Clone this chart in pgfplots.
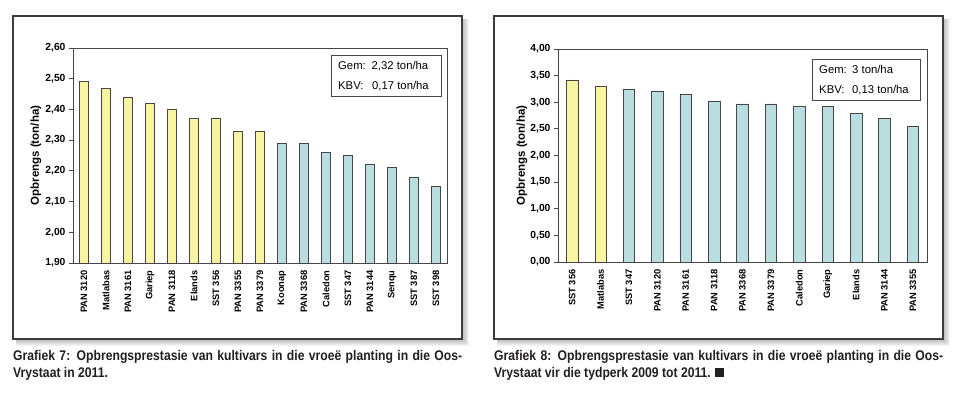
\documentclass[border=0pt]{standalone}
\usepackage{fontspec}
\setmainfont{Liberation Sans}
\newfontfamily\capfont[FakeStretch=0.87]{Liberation Sans}
\usepackage{pgfplots}
\pgfplotsset{compat=1.18}
\definecolor{baryel}{RGB}{248,245,162}
\definecolor{barblu}{RGB}{186,222,224}
\definecolor{edge}{RGB}{70,70,70}
\definecolor{frm}{RGB}{60,60,60}
\definecolor{capcol}{RGB}{35,31,32}
\pgfplotsset{
  mybar/.style={
    scale only axis,
    axis line style={edge, line width=0.8pt},
    ybar, bar shift=0pt,
    xtick style={draw=none},
    ytick pos=left, tick align=outside, major tick length=4pt,
    ytick style={edge, line width=0.8pt},
    x tick label style={rotate=90, anchor=east, font=\bfseries\fontsize{9.3}{9.3}\selectfont},
    y tick label style={font=\bfseries\fontsize{10.3}{10.3}\selectfont,
      /pgf/number format/fixed, /pgf/number format/fixed zerofill,
      /pgf/number format/precision=2, /pgf/number format/use comma,
      /pgf/number format/assume math mode=true},
    ylabel={Opbrengs (ton/ha)},
    ylabel style={font=\bfseries\fontsize{11.5}{11.5}\selectfont, anchor=center},
    every axis plot/.append style={draw=edge, line width=0.6pt},
  }
}
\begin{document}
\begin{tikzpicture}[x=1pt,y=1pt]
\path[use as bounding box] (0,0) rectangle (960,396);
% shadows and frames
\foreach \xa/\xb in {13/462, 494/943}{
  \foreach \d in {1,...,7}{
    \fill[black, opacity=0.045] (\xa+3, 396-339-\d) rectangle (\xb+\d, 396-16-3);
  }
  \fill[white] (\xa,396-339) rectangle (\xb,396-16);
  \draw[frm, line width=1.1pt] (\xa,396-339) rectangle (\xb,396-16);
}
% left chart
\begin{axis}[mybar, at={(73pt,133pt)}, anchor=south west,
  width=374pt, height=215pt, bar width=9pt,
  xmin=-0.5, xmax=16.5, ymin=1.9, ymax=2.6, ytick distance=0.1,
  xtick={0,...,16},
  ylabel style={at={(axis description cs:-0.099,0.5)}},
  xticklabels={PAN 3120,Matlabas,PAN 3161,Gariep,PAN 3118,Elands,SST 356,PAN 3355,PAN 3379,Koonap,PAN 3368,Caledon,SST 347,PAN 3144,Senqu,SST 387,SST 398}]
\addplot[fill=baryel] coordinates {(0,2.49)(1,2.47)(2,2.44)(3,2.42)(4,2.40)(5,2.37)(6,2.37)(7,2.33)(8,2.33)};
\addplot[fill=barblu] coordinates {(9,2.29)(10,2.29)(11,2.26)(12,2.25)(13,2.22)(14,2.21)(15,2.18)(16,2.15)};
\end{axis}
% right chart
\begin{axis}[mybar, at={(558pt,134pt)}, anchor=south west,
  width=369pt, height=213pt, bar width=11.5pt,
  xmin=-0.5, xmax=12.5, ymin=0, ymax=4, ytick distance=0.5,
  xtick={0,...,12},
  ylabel style={at={(axis description cs:-0.098,0.5)}},
  xticklabels={SST 356,Matlabas,SST 347,PAN 3120,PAN 3161,PAN 3118,PAN 3368,PAN 3379,Caledon,Gariep,Elands,PAN 3144,PAN 3355}]
\addplot[fill=baryel] coordinates {(0,3.42)(1,3.30)};
\addplot[fill=barblu] coordinates {(2,3.24)(3,3.20)(4,3.14)(5,3.02)(6,2.97)(7,2.97)(8,2.92)(9,2.92)(10,2.79)(11,2.70)(12,2.55)};
\end{axis}
% stat boxes
\begin{scope}[every node/.style={anchor=base west, inner sep=0, font=\fontsize{11.3}{11.3}\selectfont}]
\draw[edge, fill=white, line width=0.6pt] (331,396-96) rectangle (441,396-55);
\node at (338,396-69.5) {Gem:};
\node at (371.5,396-69.5) {2,32 ton/ha};
\node at (338,396-90) {KBV:};
\node at (372,396-90) {0,17 ton/ha};
\draw[edge, fill=white, line width=0.6pt] (812,396-100) rectangle (920,396-59);
\node at (819,396-74) {Gem:};
\node at (852,396-74) {3 ton/ha};
\node at (819,396-94) {KBV:};
\node at (852,396-94) {0,13 ton/ha};
\end{scope}
% captions
\begin{scope}[every node/.style={anchor=base west, inner sep=0, text=capcol, font=\capfont\bfseries\fontsize{14}{16}\selectfont}]
\node at (13,396-361) {\makebox[449pt][s]{Grafiek 7: Opbrengsprestasie van kultivars in die vroeë planting in die Oos-}};
\node at (13,396-377) {Vrystaat in 2011.};
\node at (494,396-361) {\makebox[449pt][s]{Grafiek 8: Opbrengsprestasie van kultivars in die vroeë planting in die Oos-}};
\node at (494,396-377) {Vrystaat vir die tydperk 2009 tot 2011. \rule{9pt}{9pt}};
\end{scope}
\end{tikzpicture}
\end{document}
